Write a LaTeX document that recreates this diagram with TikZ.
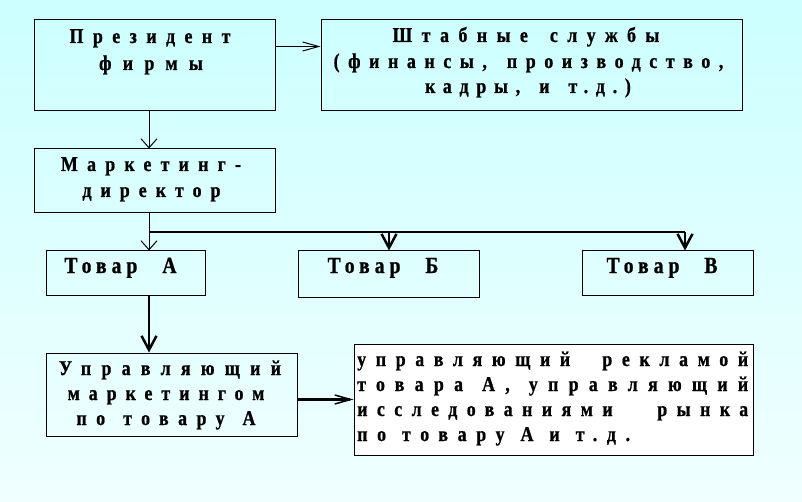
\documentclass[tikz,border=0pt]{standalone}
\usepackage{fontspec}
\setmainfont{Liberation Serif}[FakeStretch=0.85, BoldFeatures={FakeBold=0.9}]
\usetikzlibrary{arrows.meta}
\definecolor{bgtop}{RGB}{204,255,255}
\definecolor{bgbot}{RGB}{240,255,255}
\newcommand\tfs[4]{\bfseries\fontsize{#1}{25}\selectfont\addfontfeatures{LetterSpace=#2}\spaceskip=#3pt\relax}
\newcommand\tf[2]{\tfs{21}{#1}{#2}{}}
\newcommand\jl[2]{\hbox to 391pt{\tf{#1}{0.01}\spaceskip=0.01pt plus 1fil\relax #2}}
\begin{document}
\begin{tikzpicture}[x=1pt,y=-1pt,
  box/.style={draw, line width=1pt, inner sep=0pt},
  lbl/.style={inner sep=0pt, anchor=base},
  thinline/.style={line width=1pt},
  thickline/.style={line width=2.5pt},
  tharrv/.style={line width=1pt, -{Straight Barb[length=9pt,width=16pt]}},
  tharrh/.style={line width=1pt, -{Straight Barb[length=16pt,width=9pt]}},
  tkarr/.style={line width=2.5pt, -{Straight Barb[length=14pt,width=15pt]}},
  tkarrh/.style={line width=2.5pt, -{Straight Barb[length=16pt,width=9pt,line width=1.5pt]}}]
\shade[top color=bgtop, bottom color=bgbot] (0,0) rectangle (802,502);
\useasboundingbox (0,0) rectangle (802,502);
% boxes
\node[box, minimum width=241pt, minimum height=91pt] (pres) at (154.5,65.5) {};
\node[box, minimum width=421pt, minimum height=91pt] (staff) at (531.5,65.5) {};
\node[box, minimum width=241pt, minimum height=64pt] (mkt) at (154.5,181) {};
\node[box, minimum width=159pt, minimum height=44pt] (tA) at (125.5,273) {};
\node[box, minimum width=181pt, minimum height=46pt] (tB) at (388.5,274) {};
\node[box, minimum width=171pt, minimum height=44pt] (tV) at (667.5,273) {};
\node[box, minimum width=251pt, minimum height=83pt] (mgr) at (171.5,394.5) {};
\node[box, fill=white, minimum width=399pt, minimum height=111pt] (adv) at (553.5,399.5) {};
% texts
\node[lbl, font={\tf{45}{10}}] (pres1) at (150,43) {Президент};
\node[lbl, font={\tf{54}{10}}] (pres2) at (151,70) {фирмы};
\node[lbl, font={\tf{45}{22}}] (staff1) at (526,42) {Штабные службы};
\node[lbl, font={\tf{41}{20}}] (staff2) at (528.5,68) {(финансы, производство,};
\node[lbl, font={\tf{37}{19}}] (staff3) at (528,93) {кадры, и т.д.)};
\node[lbl, font={\tf{44}{10}}] (mkt1) at (151,171) {Маркетинг-};
\node[lbl, font={\tf{43}{10}}] (mkt2) at (151.5,197) {директор};
\node[lbl, font={\tfs{23}{22}{25}{}}] (tAt) at (120.5,273) {Товар А};
\node[lbl, font={\tfs{23}{22}{25}{}}] (tBt) at (383,273) {Товар Б};
\node[lbl, font={\tfs{23}{22}{25}{}}] (tVt) at (662,273) {Товар В};
\node[lbl, font={\tf{49}{10}}] (mgr1) at (170,375) {Управляющий};
\node[lbl, font={\tf{43}{10}}] (mgr2) at (166,400) {маркетингом};
\node[lbl, font={\tf{45}{18}}] (mgr3) at (166,425) {по товару А};
\node[lbl, anchor=base west] (adv1) at (357,366) {\jl{46}{управляющий рекламой}};
\node[lbl, anchor=base west] (adv2) at (357,391) {\jl{49}{товара А, управляющий}};
\node[lbl, anchor=base west] (adv3) at (357,416) {\jl{45}{исследованиями рынка}};
\node[lbl, anchor=base west, font={\tf{46}{16}}] (adv4) at (357,441) {по товару А и т.д.};
% connectors
\coordinate (j) at (149,232);
\coordinate (jB) at (389,232);
\coordinate (jV) at (685,232);
\draw[tharrh] ([yshift=-27pt]pres.north east) -- ([yshift=-27pt]staff.north west);
\draw[tharrv] ([xshift=-5.5pt]pres.south) -- ([xshift=-5.5pt]mkt.north);
\draw[thinline] ([xshift=-5.5pt]mkt.south) -- (j);
\draw[tharrv] (j) -- (j |- tA.north);
\draw[thickline] (j) -- (jV);
\draw[tkarr] (jV) -- (jV |- tV.north);
\draw[tkarr] (jB) -- (jB |- tB.north);
\draw[tkarr] (tA.south -| j) -- (mgr.north -| j);
\draw[tkarrh] (mgr.east |- adv.west) -- (adv.west);
\end{tikzpicture}
\end{document}
